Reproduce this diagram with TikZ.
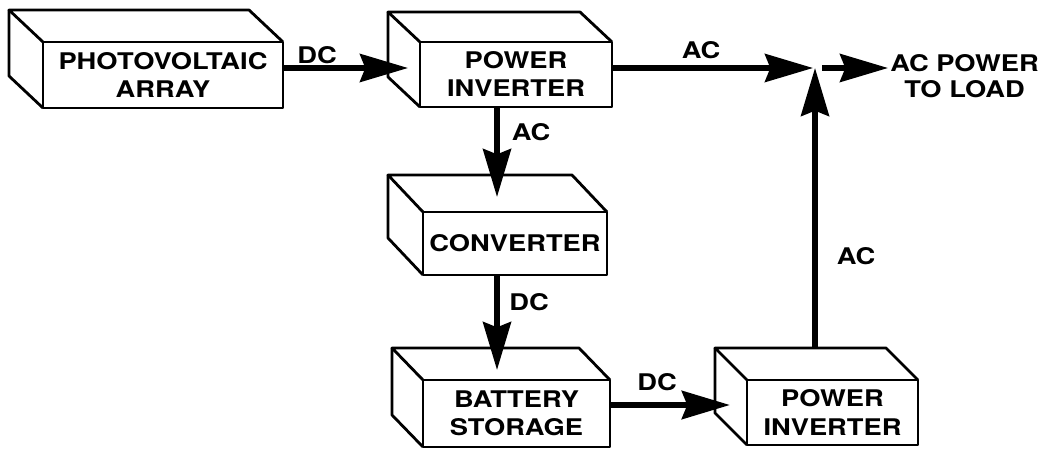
\documentclass[tikz,border=0pt]{standalone}
\usepackage{fontspec}
\setmainfont{TeX Gyre Heros}[FakeStretch=1.19]
\usetikzlibrary{arrows.meta,calc}
\newcommand\boxfont{\bfseries\fontsize{17.2}{21}\selectfont}
\newcommand\loadfont{\bfseries\fontsize{17.2}{19}\selectfont}
\newcommand\cubefaces[3]{%
  \draw[face] (#1.north west) -- ++(#2,#3) -- ($(#1.north east)+(#2,#3)$) -- (#1.north east);
  \draw[face] ($(#1.north west)+(#2,#3)$) -- ($(#1.south west)+(#2,#3)$) -- (#1.south west);}
\begin{document}
\begin{tikzpicture}[x=0.75pt,y=-0.75pt,
  box/.style={draw,line width=2.1pt,line join=round,fill=white,inner sep=0pt,outer sep=0pt,align=center,font=\boxfont},
  face/.style={draw,line width=2.1pt,line join=round},
  arr/.style={line width=3.9pt,-{Stealth[length=36pt,width=21pt,inset=4pt]}},
  lbl/.style={font=\boxfont,inner sep=0pt}]
\useasboundingbox (0,0) rectangle (1049,449);

% front faces
\node[box,minimum width=180pt,minimum height=49.5pt] (pv) at (163,75) {PHOTOVOLTAIC\\ARRAY};
\node[box,minimum width=144pt,minimum height=48.75pt] (inv1) at (516,74.5) {POWER\\INVERTER};
\node[box,minimum width=138pt,minimum height=47.25pt] (conv) at (515,243.5) {CONVERTER};
\node[box,minimum width=140.25pt,minimum height=50.25pt] (batt) at (516.5,413.5) {BATTERY\\STORAGE};
\node[box,minimum width=128.25pt,minimum height=48.75pt] (inv2) at (832.5,412.5) {POWER\\INVERTER};

% 3D faces
\cubefaces{pv}{-34}{-32}
\cubefaces{inv1}{-32}{-30}
\cubefaces{conv}{-35}{-37}
\cubefaces{batt}{-31}{-32}
\cubefaces{inv2}{-32}{-32}

% output text
\node[font=\loadfont,inner sep=0pt,align=center,anchor=west] (load) at (890,76) {AC POWER\\TO LOAD};
\coordinate (junc) at (815,68);

% connectors
\draw[arr] ($(pv.east)+(0,-7)$) -- ($(inv1.west)+(-12,-6.5)$);
\draw[arr] ($(inv1.east)+(0,-6.5)$) -- ($(junc)+(-2,0)$);
\draw[arr] ($(inv2.north west)+(68,-32)$) -- (junc);
\draw[arr] ($(junc)+(7,0)$) -- ([xshift=-1.5pt]load.west |- junc);
\draw[arr] ($(inv1.south west)+(77,0)$) -- ($(conv.north west)+(74,-15)$);
\draw[arr] ($(conv.south west)+(74,0)$) -- ($(batt.north west)+(74,-10)$);
\draw[arr,line width=4.8pt] ($(batt.east)+(0,-8.5)$) -- ($(inv2.west)+(-17,-7.5)$);

% labels
\node[lbl] at (317,55) {DC};
\node[lbl] at (701,50) {AC};
\node[lbl] at (531,132) {AC};
\node[lbl] at (529,302) {DC};
\node[lbl] at (657,382) {DC};
\node[lbl] at (856,256) {AC};
\end{tikzpicture}
\end{document}
